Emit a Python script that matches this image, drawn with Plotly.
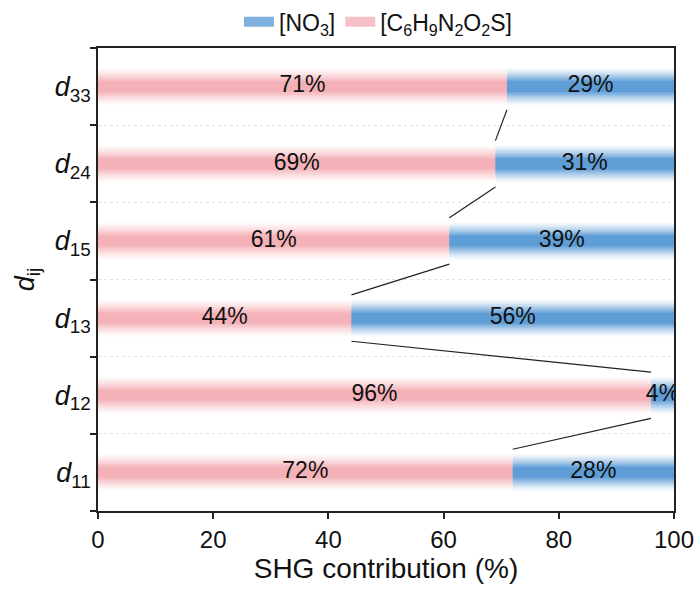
import plotly.graph_objects as go

categories = ["d11", "d12", "d13", "d15", "d24", "d33"]
cat_labels = ["<i>d</i><sub>11</sub>", "<i>d</i><sub>12</sub>", "<i>d</i><sub>13</sub>",
              "<i>d</i><sub>15</sub>", "<i>d</i><sub>24</sub>", "<i>d</i><sub>33</sub>"]
organic = [72, 96, 44, 61, 69, 71]   # [C6H9N2O2S]
nitrate = [28, 4, 56, 39, 31, 29]    # [NO3]
x_ticks = [0, 20, 40, 60, 80, 100]

PINK = (244, 178, 184)
BLUE = (95, 157, 214)
N = 10
W_MAX, W_MIN = 0.48, 0.14

def mix(c, t):
    return "rgb(%d,%d,%d)" % tuple(round(255 + (ci - 255) * t) for ci in c)

ypos = list(range(len(categories)))
fig = go.Figure()

# legend entries
fig.add_trace(go.Scatter(x=[None], y=[None], mode="lines", name="[NO<sub>3</sub>]",
                         line=dict(color=mix(BLUE, 0.8), width=10)))
fig.add_trace(go.Scatter(x=[None], y=[None], mode="lines",
                         name="[C<sub>6</sub>H<sub>9</sub>N<sub>2</sub>O<sub>2</sub>S]",
                         line=dict(color=mix(PINK, 0.8), width=10)))

for k in range(N):
    w = W_MAX - k * (W_MAX - W_MIN) / (N - 1)
    t = ((k + 1) / N) ** 1.3
    fig.add_trace(go.Bar(
        y=ypos, x=organic, base=[0] * len(ypos), orientation="h", width=w,
        marker=dict(color=mix(PINK, t), line=dict(width=0)),
        showlegend=False, hoverinfo="skip"))
    fig.add_trace(go.Bar(
        y=ypos, x=nitrate, base=organic, orientation="h", width=w,
        marker=dict(color=mix(BLUE, t), line=dict(width=0)),
        showlegend=False, hoverinfo="skip"))

# connecting lines
lx, ly = [], []
for i in range(len(ypos) - 1):
    lx += [organic[i], organic[i + 1], None]
    ly += [ypos[i] + 0.3, ypos[i + 1] - 0.3, None]
fig.add_trace(go.Scatter(x=lx, y=ly, mode="lines", line=dict(color="#222", width=1.2),
                         showlegend=False, hoverinfo="skip"))

# percentage labels
fig.add_trace(go.Scatter(
    x=[v / 2 for v in organic], y=ypos, mode="text",
    text=["%d%%" % v for v in organic], textfont=dict(size=23, color="#111"),
    showlegend=False, hoverinfo="skip"))
fig.add_trace(go.Scatter(
    x=[o + n / 2 for o, n in zip(organic, nitrate)], y=ypos, mode="text",
    text=["%d%%" % v for v in nitrate], textfont=dict(size=23, color="#111"),
    showlegend=False, hoverinfo="skip"))

fig.update_layout(
    width=700, height=590,
    margin=dict(l=98, r=26, t=48, b=79),
    barmode="overlay",
    plot_bgcolor="white", paper_bgcolor="white",
    font=dict(family="Liberation Sans, Arial, sans-serif", color="#111"),
    legend=dict(orientation="h", xref="container", yref="container",
                x=0.54, xanchor="center", y=0.963, yanchor="middle",
                font=dict(size=23), traceorder="normal", bgcolor="rgba(0,0,0,0)",
                itemwidth=30),
    xaxis=dict(range=[0, 100], tickvals=x_ticks, ticks="outside", ticklen=6,
               tickwidth=1.5, tickcolor="#222", automargin=False,
               showline=True, mirror=True, linecolor="#222", linewidth=1.5,
               showgrid=False, zeroline=False, tickfont=dict(size=24),
               title=dict(text="SHG contribution (%)", font=dict(size=28), standoff=4)),
    yaxis=dict(range=[-0.5, 5.5], tickvals=ypos, ticktext=cat_labels, ticks="",
               showline=True, mirror=True, linecolor="#222", linewidth=1.5,
               showgrid=False, zeroline=False, tickfont=dict(size=27), automargin=False,
               minor=dict(tick0=0.5, dtick=1, ticks="outside", ticklen=6,
                          tickwidth=1.5, tickcolor="#222", showgrid=True,
                          gridcolor="#e2e2e2", griddash="dot", gridwidth=1),
               title=dict(text="<i>d</i><sub>ij</sub>", font=dict(size=27), standoff=12)),
)

fig.write_html("out.html", config={"displayModeBar": False},
               post_script="document.body.style.margin='0';document.body.style.overflow='hidden';")
